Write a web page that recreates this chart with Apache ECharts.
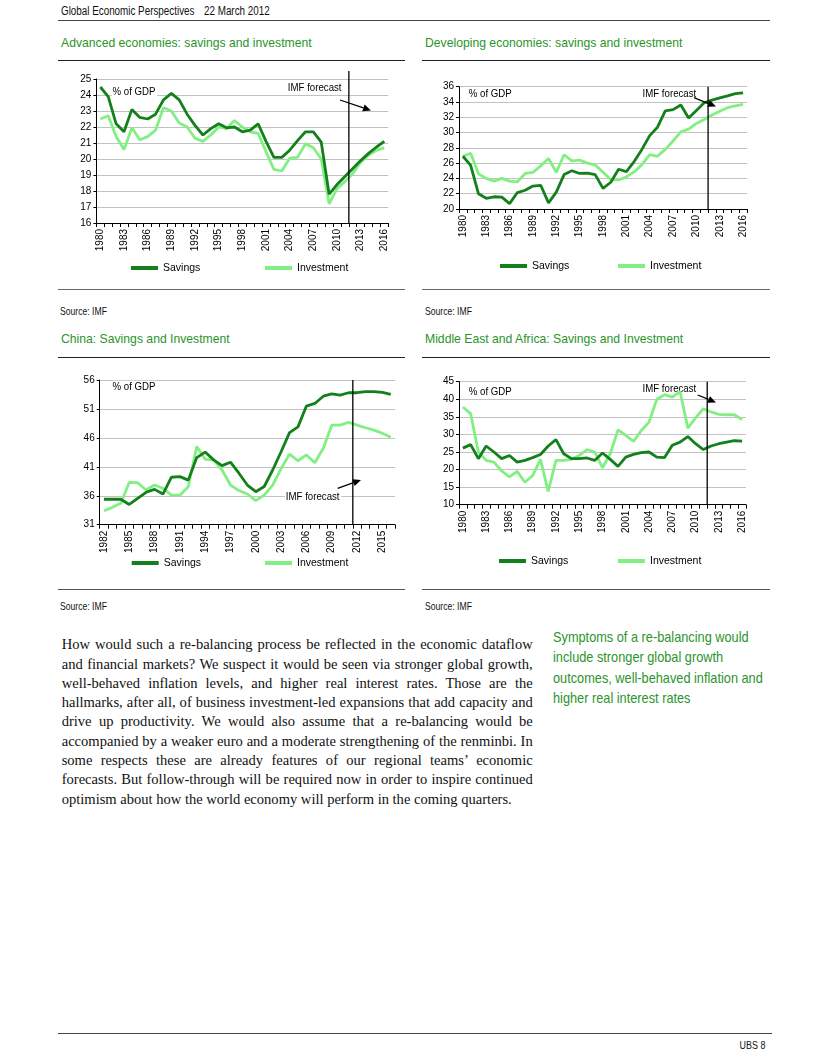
<!DOCTYPE html>
<html><head><meta charset="utf-8">
<script src="https://cdn.jsdelivr.net/npm/echarts@6/dist/echarts.min.js"></script>
<style>
html,body{margin:0;padding:0;background:#fff;}
#page{position:relative;width:826px;height:1057px;overflow:hidden;background:#fff;
  font-family:"Liberation Sans",Arial,sans-serif;color:#111;}
.t{position:absolute;white-space:nowrap;}
.n{display:inline-block;transform:scaleX(0.82);transform-origin:0 50%;}
.rule{position:absolute;height:0;}
.hdr{font-size:12px;line-height:14px;top:4px;}
.title{font-size:12.2px;line-height:14px;color:#2b942b;}
.src{font-size:10.5px;line-height:12px;}
#bodytext{position:absolute;left:61.7px;top:635.3px;width:471px;font-family:"Liberation Serif","Times New Roman",serif;font-size:14.55px;color:#111;}
#bodytext div{height:19.3px;line-height:19.3px;text-align:justify;text-align-last:justify;overflow:visible;}
#bodytext div.last{text-align-last:left;}
#side{position:absolute;left:553px;top:626.75px;font-size:15px;line-height:20.5px;color:#2b942b;white-space:nowrap;
  transform:scaleX(0.85);transform-origin:0 0;}
#chart{position:absolute;left:0;top:0;width:826px;height:600px;}
</style>
</head><body>
<div id="page">
  <div class="t hdr" style="left:61px;"><span class="n">Global Economic Perspectives</span></div>
  <div class="t hdr" style="left:204px;"><span class="n">22 March 2012</span></div>
  <div class="rule" style="left:58px;width:712px;top:20px;border-top:1px solid #444;"></div>

  <div class="t title" style="left:61px;top:36px;">Advanced economies: savings and investment</div>
  <div class="t title" style="left:425px;top:36px;">Developing economies: savings and investment</div>
  <div class="rule" style="left:58px;width:347px;top:59.5px;border-top:1.5px solid #222;"></div>
  <div class="rule" style="left:422px;width:348px;top:59.5px;border-top:1.5px solid #222;"></div>
  <div class="rule" style="left:58px;width:347px;top:288.5px;border-top:1px solid #666;"></div>
  <div class="rule" style="left:422px;width:348px;top:288.5px;border-top:1px solid #666;"></div>
  <div class="t src" style="left:60px;top:305px;"><span class="n">Source: IMF</span></div>
  <div class="t src" style="left:425px;top:305px;"><span class="n">Source: IMF</span></div>

  <div class="t title" style="left:61px;top:332px;">China: Savings and Investment</div>
  <div class="t title" style="left:425px;top:332px;">Middle East and Africa: Savings and Investment</div>
  <div class="rule" style="left:58px;width:347px;top:356.5px;border-top:1.5px solid #222;"></div>
  <div class="rule" style="left:422px;width:348px;top:356.5px;border-top:1.5px solid #222;"></div>
  <div class="rule" style="left:58px;width:347px;top:588.5px;border-top:1px solid #555;"></div>
  <div class="rule" style="left:422px;width:348px;top:588.5px;border-top:1px solid #555;"></div>
  <div class="t src" style="left:60px;top:600px;"><span class="n">Source: IMF</span></div>
  <div class="t src" style="left:425px;top:600px;"><span class="n">Source: IMF</span></div>

  <div id="chart"></div>

  <div id="bodytext">
    <div>How would such a re-balancing process be reflected in the economic dataflow</div>
    <div>and financial markets? We suspect it would be seen via stronger global growth,</div>
    <div>well-behaved inflation levels, and higher real interest rates. Those are the</div>
    <div>hallmarks, after all, of business investment-led expansions that add capacity and</div>
    <div>drive up productivity. We would also assume that a re-balancing would be</div>
    <div>accompanied by a weaker euro and a moderate strengthening of the renminbi. In</div>
    <div>some respects these are already features of our regional teams’ economic</div>
    <div>forecasts. But follow-through will be required now in order to inspire continued</div>
    <div class="last">optimism about how the world economy will perform in the coming quarters.</div>
  </div>
  <div id="side">Symptoms of a re-balancing would<br>include stronger global growth<br>outcomes, well-behaved inflation and<br>higher real interest rates</div>

  <div class="rule" style="left:58px;width:714px;top:1032.5px;border-top:1px solid #444;"></div>
  <div class="t" style="right:61px;top:1038.5px;font-size:10.5px;line-height:13px;"><span class="n" style="transform:scaleX(0.85);transform-origin:100% 50%;">UBS 8</span></div>
</div>
<script>
// ---------- data ----------
const years1980 = ['1980','1981','1982','1983','1984','1985','1986','1987','1988','1989','1990','1991','1992','1993','1994','1995','1996','1997','1998','1999','2000','2001','2002','2003','2004','2005','2006','2007','2008','2009','2010','2011','2012','2013','2014','2015','2016'];
const years1982 = ['1982','1983','1984','1985','1986','1987','1988','1989','1990','1991','1992','1993','1994','1995','1996','1997','1998','1999','2000','2001','2002','2003','2004','2005','2006','2007','2008','2009','2010','2011','2012','2013','2014','2015','2016'];

const advSavings    = [24.5,23.9,22.2,21.7,23.1,22.6,22.5,22.8,23.7,24.1,23.7,22.8,22.1,21.5,21.9,22.2,21.95,22.0,21.7,21.8,22.2,21.1,20.1,20.1,20.55,21.15,21.7,21.7,21.05,17.8,18.4,18.9,19.4,19.9,20.35,20.75,21.1];
const advInvestment = [22.5,22.7,21.4,20.6,21.95,21.2,21.4,21.8,23.2,23.0,22.25,22.0,21.3,21.1,21.5,22.0,21.9,22.4,22.0,21.7,21.6,20.45,19.35,19.25,20.05,20.1,20.95,20.7,20.0,17.2,18.15,18.6,19.1,19.8,20.25,20.55,20.7];

const devSavings    = [26.9,25.7,22.0,21.4,21.6,21.55,20.7,22.15,22.45,23.0,23.1,20.8,22.2,24.5,25.0,24.65,24.7,24.5,22.7,23.5,25.2,24.9,26.2,27.8,29.6,30.7,32.85,33.0,33.6,31.9,32.9,33.9,34.25,34.55,34.8,35.1,35.2];
const devInvestment = [26.9,27.3,24.6,24.0,23.65,24.0,23.65,23.55,24.65,24.8,25.65,26.6,24.8,27.1,26.3,26.4,26.0,25.75,24.8,23.85,23.8,24.2,24.85,25.8,27.1,26.9,27.8,28.9,30.1,30.45,31.2,31.7,32.3,32.8,33.25,33.5,33.7];

const chinaSavings    = [35.4,35.4,35.4,34.5,35.55,36.6,37.1,36.3,39.2,39.3,38.7,42.6,43.55,42.2,41.2,41.8,39.9,37.85,36.7,37.6,40.45,43.6,46.9,47.9,51.5,51.95,53.2,53.6,53.4,53.8,53.8,54.0,54.0,53.85,53.5];
const chinaInvestment = [33.4,34.0,34.7,38.3,38.25,37.0,37.85,37.3,36.1,36.1,37.55,44.5,42.3,42.2,40.45,37.85,36.9,36.3,35.15,36.1,37.85,40.7,43.2,42.05,43.05,41.7,44.2,48.2,48.2,48.7,48.2,47.75,47.35,46.8,46.1];

const meaSavings    = [26.1,27.1,23.1,26.7,25.0,23.1,24.0,22.1,22.6,23.4,24.3,26.7,28.5,24.5,23.1,23.1,23.3,22.6,24.7,22.9,20.9,23.55,24.3,24.8,25.0,23.55,23.4,26.9,27.8,29.4,27.35,25.7,26.7,27.35,27.8,28.2,28.1];
const meaInvestment = [37.8,35.9,25.0,22.6,22.1,19.6,17.9,19.5,16.4,18.3,22.9,13.8,22.6,22.6,22.9,24.0,25.7,25.0,20.5,24.5,31.3,29.7,28.0,31.1,33.5,40.0,41.3,40.6,42.2,31.8,34.7,37.3,36.4,35.7,35.6,35.6,34.2];

// y-axis tick settings [min, max, interval]
const advTicks   = [16, 25, 1];
const devTicks   = [20, 36, 2];
const chinaTicks = [31, 56, 5];
const meaTicks   = [10, 45, 5];

const forecastBoundary = 2011.5; // IMF forecast starts with 2012

// ---------- styling / layout ----------
const SAV = '#13801b', INV = '#82ef82';
const FONT = '"Liberation Sans",Arial,sans-serif';
const NARROW = 0.84;

const panels = [
  {years: years1980, sav: advSavings,   inv: advInvestment,   ticks: advTicks,   grid:{left:96.4, top:79,    width:291.9, height:144},
   lineTop: 25.5, gdp:[111.7,91.7], imf:[287,88.3], arrow:[340,100,371,110.5], legend:[131,265,269]},
  {years: years1980, sav: devSavings,   inv: devInvestment,   ticks: devTicks,   grid:{left:459,  top:86.7,  width:288,   height:122.3},
   lineTop: 36, gdp:[468,94.3], imf:[641.7,94], arrow:[694,97.7,716,106.5], legend:[500,618,267]},
  {years: years1982, sav: chinaSavings, inv: chinaInvestment, ticks: chinaTicks, grid:{left:99.7, top:380,   width:295.3, height:144.7},
   lineTop: 56, gdp:[111.7,386.7], imf:[285,496.7], arrow:[337.7,488.3,361,480], legend:[131.7,265,564]},
  {years: years1980, sav: meaSavings,   inv: meaInvestment,   ticks: meaTicks,   grid:{left:459,  top:381.7, width:287,   height:123},
   lineTop: 45, gdp:[468,392], imf:[641.7,389.3], arrow:[697.7,395,716,402.5], legend:[499,618,562]}
];

function arrowGraphic(x1,y1,x2,y2){
  const dx=x2-x1, dy=y2-y1, L=Math.hypot(dx,dy), ux=dx/L, uy=dy/L, h=8, w=3.6;
  const bx=x2-ux*h, by=y2-uy*h;
  return [
    {type:'line', silent:true, z:10, shape:{x1:x1,y1:y1,x2:bx,y2:by}, style:{stroke:'#000', lineWidth:1.3}},
    {type:'polygon', silent:true, z:10, shape:{points:[[x2,y2],[bx-uy*w,by+ux*w],[bx+uy*w,by-ux*w]]}, style:{fill:'#000'}}
  ];
}
function labelGraphic(x, y, text){
  return {type:'text', x:x, y:y, scaleX:NARROW, silent:true, z:1,
          style:{text:text, font:'11.5px '+FONT, fill:'#000', verticalAlign:'middle',
                 backgroundColor:'#fff', padding:[0,2,0,1]}};
}

const option = {animation:false, grid:[], xAxis:[], yAxis:[], series:[], legend:[], graphic:[]};
const n = panels.length;
panels.forEach((p, gi) => {
  option.grid.push(Object.assign({containLabel:false}, p.grid));
  option.xAxis[gi] = {
    gridIndex: gi, type:'category', data: p.years, boundaryGap: true,
    axisLine:{show:true, onZero:false, lineStyle:{color:'#000', width:1}},
    axisTick:{show:true, interval:0, length:4, lineStyle:{color:'#000', width:1}},
    axisLabel:{interval:2, rotate:90, fontSize:10, fontFamily:FONT, color:'#000', margin:6},
    splitLine:{show:false}
  };
  option.xAxis[n+gi] = {
    gridIndex: gi, type:'value', show:false,
    min: Number(p.years[0]) - 0.5, max: Number(p.years[p.years.length-1]) + 0.5,
    splitLine:{show:false}
  };
  option.yAxis.push({
    gridIndex: gi, type:'value', min: p.ticks[0], max: p.ticks[1], interval: p.ticks[2],
    axisLine:{show:true, lineStyle:{color:'#000', width:1}},
    axisTick:{show:true, length:3, lineStyle:{color:'#000'}},
    axisLabel:{fontSize:10, fontFamily:FONT, color:'#000', margin:5},
    splitLine:{show:true, lineStyle:{color:'#c2c2c2', width:1}}
  });
  option.series.push(
    {type:'line', name:'Investment', xAxisIndex:gi, yAxisIndex:gi, data:p.inv, symbol:'none', z:3,
     lineStyle:{color:INV, width:2.8}, itemStyle:{color:INV}},
    {type:'line', name:'Savings', xAxisIndex:gi, yAxisIndex:gi, data:p.sav, symbol:'none', z:4,
     lineStyle:{color:SAV, width:2.8}, itemStyle:{color:SAV}},
    {type:'line', name:'forecast', xAxisIndex:n+gi, yAxisIndex:gi, symbol:'none', silent:true, clip:false, z:5,
     data:[[forecastBoundary, p.ticks[0]],[forecastBoundary, p.lineTop]], lineStyle:{color:'#000', width:1.3}}
  );
  option.legend.push(
    {data:['Savings'], left:p.legend[0], top:p.legend[2]-6.5, padding:0, icon:'rect', itemWidth:27, itemHeight:4, itemGap:0,
     selectedMode:false, textStyle:{fontSize:10.5, fontFamily:FONT, color:'#000'}},
    {data:['Investment'], left:p.legend[1], top:p.legend[2]-6.5, padding:0, icon:'rect', itemWidth:27, itemHeight:4, itemGap:0,
     selectedMode:false, textStyle:{fontSize:10.5, fontFamily:FONT, color:'#000'}}
  );
  option.graphic.push(
    labelGraphic(p.gdp[0], p.gdp[1], '% of GDP'),
    labelGraphic(p.imf[0], p.imf[1], 'IMF forecast'),
    ...arrowGraphic(...p.arrow)
  );
});

const chart = echarts.init(document.getElementById('chart'), null, {renderer:'canvas'});
chart.setOption(option);
</script>
</body></html>
